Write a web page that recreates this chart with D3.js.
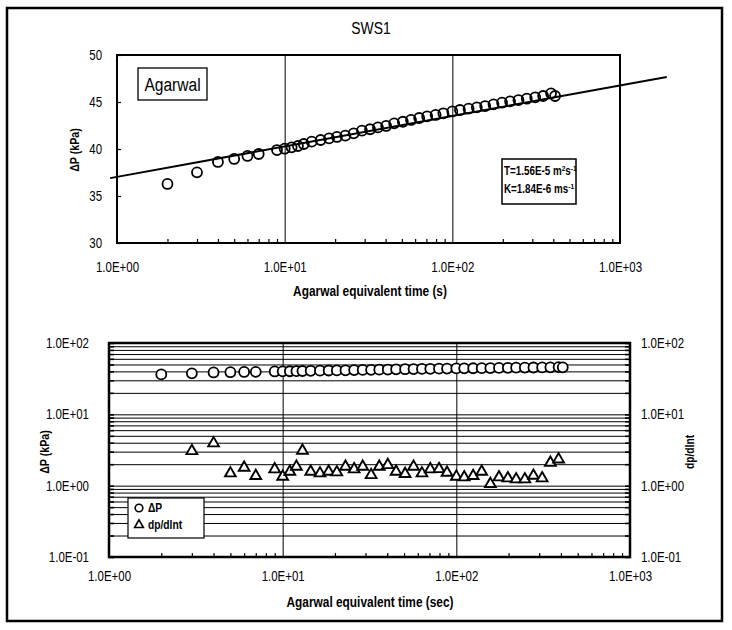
<!DOCTYPE html>
<html>
<head>
<meta charset="utf-8">
<script src="https://cdn.jsdelivr.net/npm/d3@7"></script>
<style>
body { margin: 0; background: #fff; }
text { font-family: 'Liberation Sans Narrow', 'Arial Narrow', 'Liberation Sans', Arial, sans-serif; fill: #000; }
</style>
</head>
<body>
<svg id="chart" width="732" height="630"></svg>
<script>
// Agarwal equivalent time (s) and pressure change (kPa)
const times = [2, 3, 4, 5, 6, 7, 9, 10, 11, 12, 13, 14.5, 16.4, 18.4, 20.5, 23, 25.8, 28.9, 32.3, 36,
    40.3, 45, 50.7, 56.7, 63.4, 70.8, 79.5, 88.4, 100, 111, 125, 140, 157, 176, 198, 221, 248, 278,
    312, 348, 388, 410];
const deltaP = [36.28, 37.52, 38.62, 38.94, 39.26, 39.47, 39.89, 40.03, 40.18, 40.32, 40.53, 40.78,
    40.96, 41.13, 41.28, 41.42, 41.67, 41.95, 42.1, 42.3, 42.45, 42.73, 42.9, 43.09, 43.3, 43.48,
    43.62, 43.8, 44.0, 44.15, 44.29, 44.43, 44.57, 44.75, 44.93, 45.07, 45.21, 45.35, 45.5, 45.64,
    45.92, 45.64];

// derivative dp/dlnt
const derivTimes = [3, 4, 5, 6, 7, 9, 10, 11, 12, 13, 14.5, 16.4, 18.4, 20.5, 23, 25.8, 28.9, 32.3,
    36, 40.3, 45, 50.7, 56.7, 63.4, 70.8, 79.5, 88.4, 100, 111, 125, 140, 157, 176, 198, 221, 248,
    278, 312, 348, 388];
const deriv = [3.06, 3.93, 1.49, 1.79, 1.37, 1.70, 1.34, 1.57, 1.85, 3.1, 1.57, 1.49, 1.57, 1.54,
    1.85, 1.70, 1.85, 1.41, 1.85, 1.95, 1.57, 1.46, 1.85, 1.49, 1.70, 1.71, 1.52, 1.34, 1.31, 1.37,
    1.57, 1.06, 1.31, 1.27, 1.23, 1.23, 1.38, 1.27, 2.1, 2.34];

// straight-line fit (semi-log), end points
const trendTimes = [0.91, 1900];
const trendP = [36.9, 47.66];

const topYTicks = [30, 35, 40, 45, 50];
const decades = [1, 10, 100, 1000];
const logYDecades = [0.1, 1, 10, 100];

const svg = d3.select('#chart');
const SQ = 0.82; // horizontal squeeze, the original uses a narrow face

const fmtE = d => {
    const e = Math.round(Math.log10(d));
    return '1.0E' + (e < 0 ? '-' : '+') + String(Math.abs(e)).padStart(2, '0');
};

// free text label, squeezed horizontally around its anchor
function label(x, y, str, size, opts = {}) {
    const t = svg.append('text')
        .attr('transform', `translate(${x},${y})` + (opts.rotate ? ` rotate(${opts.rotate})` : '') + ` scale(${SQ},1)`)
        .attr('text-anchor', opts.anchor || 'middle')
        .style('font-size', size + 'px')
        .style('font-weight', opts.bold ? 'bold' : 'normal');
    if (str) t.text(str);
    return t;
}

// axis labels squeezed the same way
function styleTicks(g, shiftX = 0) {
    g.selectAll('text')
        .attr('font-family', null)
        .style('font-size', '14px')
        .attr('transform', `translate(${shiftX},0) scale(${SQ},1)`);
}

// outer frame
svg.append('rect')
    .attr('x', 7).attr('y', 8)
    .attr('width', 715).attr('height', 613)
    .attr('fill', 'none').attr('stroke', '#000').attr('stroke-width', 2.5);

label(371, 34, 'SWS1', 17);

// ---------- top chart ----------
const topBox = {left: 117, right: 620, top: 55, bottom: 243};
const x1 = d3.scaleLog().domain([1, 1000]).range([topBox.left, topBox.right]);
const y1 = d3.scaleLinear().domain([30, 50]).range([topBox.bottom, topBox.top]);
const minor1 = x1.ticks().filter(d => !decades.includes(d));

// vertical gridlines
svg.append('g')
    .attr('transform', `translate(0,${topBox.bottom})`)
    .call(d3.axisBottom(x1).tickValues([10, 100]).tickSize(-(topBox.bottom - topBox.top)).tickFormat(''))
    .call(g => g.select('.domain').remove())
    .selectAll('line').attr('stroke', '#000').attr('stroke-width', 1);

// minor ticks (inside)
svg.append('g')
    .attr('transform', `translate(0,${topBox.bottom})`)
    .call(d3.axisBottom(x1).tickValues(minor1).tickSize(-4).tickFormat(''))
    .call(g => g.select('.domain').remove())
    .selectAll('line').attr('stroke-width', 1.2);

// y ticks (inside) + labels
svg.append('g')
    .attr('transform', `translate(${topBox.left},0)`)
    .call(d3.axisLeft(y1).tickValues(topYTicks).tickSize(-4).tickPadding(15))
    .call(g => g.select('.domain').remove())
    .call(g => styleTicks(g, -15 * (1 - SQ)))
    .selectAll('line').attr('stroke-width', 1.2);

// x labels
svg.append('g')
    .attr('transform', `translate(0,${topBox.bottom})`)
    .call(d3.axisBottom(x1).tickValues(decades).tickSize(0).tickPadding(19).tickFormat(fmtE))
    .call(g => g.select('.domain').remove())
    .call(g => styleTicks(g));

// trend line
svg.append('line')
    .attr('x1', x1(trendTimes[0])).attr('y1', y1(trendP[0]))
    .attr('x2', x1(trendTimes[1])).attr('y2', y1(trendP[1]))
    .attr('stroke', '#000').attr('stroke-width', 2);

// data circles
svg.append('g').selectAll('circle')
    .data(times.map((t, i) => [t, deltaP[i]]))
    .enter().append('circle')
    .attr('cx', d => x1(d[0])).attr('cy', d => y1(d[1]))
    .attr('r', 5)
    .attr('fill', 'none').attr('stroke', '#000').attr('stroke-width', 1.8);

svg.append('rect')
    .attr('x', topBox.left).attr('y', topBox.top)
    .attr('width', topBox.right - topBox.left).attr('height', topBox.bottom - topBox.top)
    .attr('fill', 'none').attr('stroke', '#000').attr('stroke-width', 2);

// Agarwal box
svg.append('rect')
    .attr('x', 138).attr('y', 68).attr('width', 69).attr('height', 32)
    .attr('fill', '#fff').attr('stroke', '#000').attr('stroke-width', 1.3);
label(172.5, 91, 'Agarwal', 19);

// parameter box
svg.append('rect')
    .attr('x', 502).attr('y', 159).attr('width', 74).attr('height', 45)
    .attr('fill', '#fff').attr('stroke', '#000').attr('stroke-width', 1.5);
const pT = label(504, 175, null, 12, {anchor: 'start', bold: true});
pT.append('tspan').text('T=1.56E-5 m');
pT.append('tspan').attr('dy', -4).style('font-size', '8px').text('2');
pT.append('tspan').attr('dy', 4).text('s');
pT.append('tspan').attr('dy', -4).style('font-size', '8px').text('-1');
const pK = label(504, 193, null, 12, {anchor: 'start', bold: true});
pK.append('tspan').text('K=1.84E-6 ms');
pK.append('tspan').attr('dy', -4).style('font-size', '8px').text('-1');

label(79, 150, 'ΔP (kPa)', 13, {rotate: -90, bold: true});
label(370, 296, 'Agarwal equivalent time (s)', 14.5, {bold: true});

// ---------- bottom chart ----------
const botBox = {left: 109, right: 630, top: 343, bottom: 557};
const x2 = d3.scaleLog().domain([1, 1000]).range([botBox.left, botBox.right]);
const y2 = d3.scaleLog().domain([0.1, 100]).range([botBox.bottom, botBox.top]);
const minor2 = x2.ticks().filter(d => !decades.includes(d));
const yGrid = y2.ticks();

// horizontal gridlines
svg.append('g')
    .attr('transform', `translate(${botBox.left},0)`)
    .call(d3.axisLeft(y2).tickValues(yGrid).tickSize(-(botBox.right - botBox.left)).tickFormat(''))
    .call(g => g.select('.domain').remove())
    .selectAll('line').attr('stroke', '#000').attr('stroke-width', 1);

// vertical gridlines
svg.append('g')
    .attr('transform', `translate(0,${botBox.bottom})`)
    .call(d3.axisBottom(x2).tickValues([10, 100]).tickSize(-(botBox.bottom - botBox.top)).tickFormat(''))
    .call(g => g.select('.domain').remove())
    .selectAll('line').attr('stroke', '#000').attr('stroke-width', 1);

// minor x ticks (inside)
svg.append('g')
    .attr('transform', `translate(0,${botBox.bottom})`)
    .call(d3.axisBottom(x2).tickValues(minor2).tickSize(-4).tickFormat(''))
    .call(g => g.select('.domain').remove())
    .selectAll('line').attr('stroke-width', 1.2);

// y ticks both sides (inside)
svg.append('g')
    .attr('transform', `translate(${botBox.left},0)`)
    .call(d3.axisLeft(y2).tickValues(yGrid).tickSize(-5).tickFormat(''))
    .call(g => g.select('.domain').remove())
    .selectAll('line').attr('stroke-width', 1.6);
svg.append('g')
    .attr('transform', `translate(${botBox.right},0)`)
    .call(d3.axisRight(y2).tickValues(yGrid).tickSize(-5).tickFormat(''))
    .call(g => g.select('.domain').remove())
    .selectAll('line').attr('stroke-width', 1.6);

// tick labels
svg.append('g')
    .attr('transform', `translate(${botBox.left},0)`)
    .call(d3.axisLeft(y2).tickValues(logYDecades).tickSize(0).tickPadding(20).tickFormat(fmtE))
    .call(g => g.select('.domain').remove())
    .call(g => styleTicks(g, -20 * (1 - SQ)));
svg.append('g')
    .attr('transform', `translate(${botBox.right},0)`)
    .call(d3.axisRight(y2).tickValues(logYDecades).tickSize(0).tickPadding(11).tickFormat(fmtE))
    .call(g => g.select('.domain').remove())
    .call(g => styleTicks(g, 11 * (1 - SQ)));
svg.append('g')
    .attr('transform', `translate(0,${botBox.bottom})`)
    .call(d3.axisBottom(x2).tickValues(decades).tickSize(0).tickPadding(14).tickFormat(fmtE))
    .call(g => g.select('.domain').remove())
    .call(g => styleTicks(g));

svg.append('g').selectAll('circle')
    .data(times.map((t, i) => [t, deltaP[i]]))
    .enter().append('circle')
    .attr('cx', d => x2(d[0])).attr('cy', d => y2(d[1]))
    .attr('r', 5)
    .attr('fill', '#fff').attr('stroke', '#000').attr('stroke-width', 1.8);

const tri = d3.symbol().type(d3.symbolTriangle).size(50);
svg.append('g').selectAll('path')
    .data(derivTimes.map((t, i) => [t, deriv[i]]))
    .enter().append('path')
    .attr('d', tri)
    .attr('transform', d => `translate(${x2(d[0])},${y2(d[1])})`)
    .attr('fill', '#fff').attr('stroke', '#000').attr('stroke-width', 1.9)
    .attr('stroke-linejoin', 'miter');

svg.append('rect')
    .attr('x', botBox.left).attr('y', botBox.top)
    .attr('width', botBox.right - botBox.left).attr('height', botBox.bottom - botBox.top)
    .attr('fill', 'none').attr('stroke', '#000').attr('stroke-width', 2.5);

// legend
svg.append('rect')
    .attr('x', 128).attr('y', 498).attr('width', 76).attr('height', 40)
    .attr('fill', '#fff').attr('stroke', '#000').attr('stroke-width', 1.2);
svg.append('circle')
    .attr('cx', 139).attr('cy', 508).attr('r', 3.8)
    .attr('fill', 'none').attr('stroke', '#000').attr('stroke-width', 1.6);
label(148, 512, 'ΔP', 12.5, {anchor: 'start', bold: true});
svg.append('path')
    .attr('d', d3.symbol().type(d3.symbolTriangle).size(34))
    .attr('transform', 'translate(139,525)')
    .attr('fill', 'none').attr('stroke', '#000').attr('stroke-width', 1.6);
label(148, 529, 'dp/dlnt', 12.5, {anchor: 'start', bold: true});

label(49, 452, 'ΔP (kPa)', 13, {rotate: -90, bold: true});
label(694, 452, 'dp/dlnt', 12.5, {rotate: -90, bold: true});
label(370, 607, 'Agarwal equivalent time (sec)', 14.5, {bold: true});
</script>
</body>
</html>
